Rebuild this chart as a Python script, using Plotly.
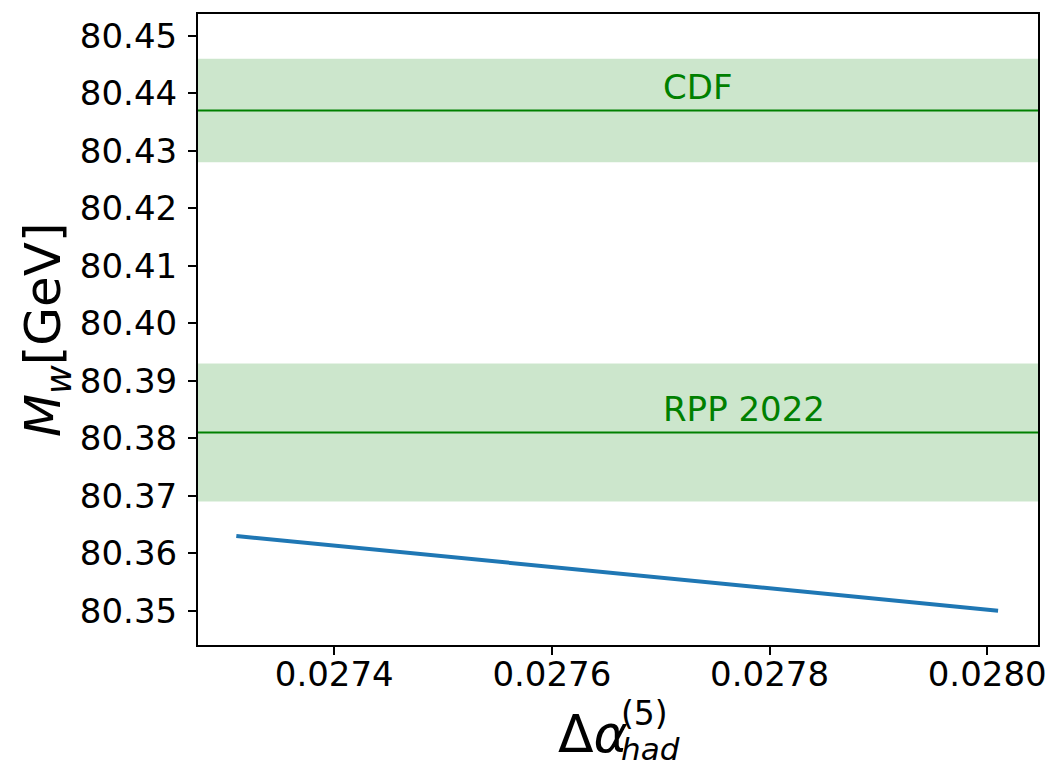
import plotly.graph_objects as go

# W-boson mass prediction versus the hadronic contribution to alpha
dalpha_had = [0.02731, 0.02801]
mw_pred = [80.363, 80.350]

# Measurements shown as horizontal bands (central value, uncertainty)
band_names = ["CDF", "RPP 2022"]
band_centers = [80.437, 80.381]
band_errors = [0.009, 0.012]

x_tick_vals = [0.0274, 0.0276, 0.0278, 0.0280]
x_tick_text = ["0.0274", "0.0276", "0.0278", "0.0280"]
y_tick_vals = [80.35, 80.36, 80.37, 80.38, 80.39, 80.40, 80.41, 80.42, 80.43, 80.44, 80.45]
y_tick_text = ["%.2f" % v for v in y_tick_vals]

FONT = "DejaVu Sans"
GREEN = "rgb(0,128,0)"
BAND_FILL = "rgba(0,128,0,0.2)"
BLUE = "#1f77b4"

W, H = 1058, 770
ML, MR, MT, MB = 198, 17, 13, 125
PW, PH = W - ML - MR, H - MT - MB


def px_to_paper(px, py):
    return (px - ML) / PW, (H - MB - py) / PH


fig = go.Figure()
fig.add_trace(go.Scatter(
    x=dalpha_had, y=mw_pred, mode="lines",
    line=dict(color=BLUE, width=4), showlegend=False,
))

shapes = []
annotations = []
for name, c, e in zip(band_names, band_centers, band_errors):
    shapes.append(dict(type="rect", xref="x domain", yref="y", x0=0, x1=1,
                       y0=c - e, y1=c + e, fillcolor=BAND_FILL,
                       line=dict(width=0), layer="below"))
    shapes.append(dict(type="line", xref="x domain", yref="y", x0=0, x1=1,
                       y0=c, y1=c, line=dict(color=GREEN, width=2), layer="below"))
    annotations.append(dict(x=0.0277, y=c + 0.0041, xref="x", yref="y",
                            text=name, showarrow=False, xanchor="left",
                            yanchor="middle",
                            font=dict(family=FONT, size=34, color=GREEN)))

# x-axis title: Δα with stacked superscript (5) and subscript "had"
x0, y0 = px_to_paper(557, 734)
annotations.append(dict(x=x0, y=y0, xref="paper", yref="paper",
                        text="Δ<i>α</i>", showarrow=False,
                        xanchor="left", yanchor="middle",
                        font=dict(family=FONT, size=52, color="black")))
x1, y1 = px_to_paper(621, 714)
annotations.append(dict(x=x1, y=y1, xref="paper", yref="paper",
                        text="(5)", showarrow=False,
                        xanchor="left", yanchor="middle",
                        font=dict(family=FONT, size=33, color="black")))
x2, y2 = px_to_paper(621, 769)
annotations.append(dict(x=x2, y=y2, xref="paper", yref="paper",
                        text="<i>had</i>", showarrow=False,
                        xanchor="left", yanchor="bottom",
                        font=dict(family=FONT, size=31, color="black")))

# y-axis title
x3, y3 = px_to_paper(46, 329)
annotations.append(dict(x=x3, y=y3, xref="paper", yref="paper",
                        text="<i>M</i><sub><i>w</i></sub>[GeV]", showarrow=False,
                        textangle=-90, xanchor="center", yanchor="middle",
                        font=dict(family=FONT, size=50, color="black")))

axis_common = dict(
    showline=True, linecolor="black", linewidth=2, mirror=True,
    ticks="outside", ticklen=8, tickwidth=2, tickcolor="black",
    showgrid=False, zeroline=False,
    tickfont=dict(family=FONT, size=34, color="black"),
)

fig.update_layout(
    width=W, height=H,
    margin=dict(l=ML, r=MR, t=MT, b=MB),
    paper_bgcolor="white", plot_bgcolor="white",
    shapes=shapes, annotations=annotations,
    xaxis=dict(range=[0.0272748, 0.0280467], tickvals=x_tick_vals,
               ticktext=x_tick_text, ticklabelstandoff=-10, **axis_common),
    yaxis=dict(range=[80.34404, 80.4538], tickvals=y_tick_vals,
               ticktext=y_tick_text, ticklabelstandoff=4, **axis_common),
    font=dict(family=FONT),
)

fig.write_html("out.html")
